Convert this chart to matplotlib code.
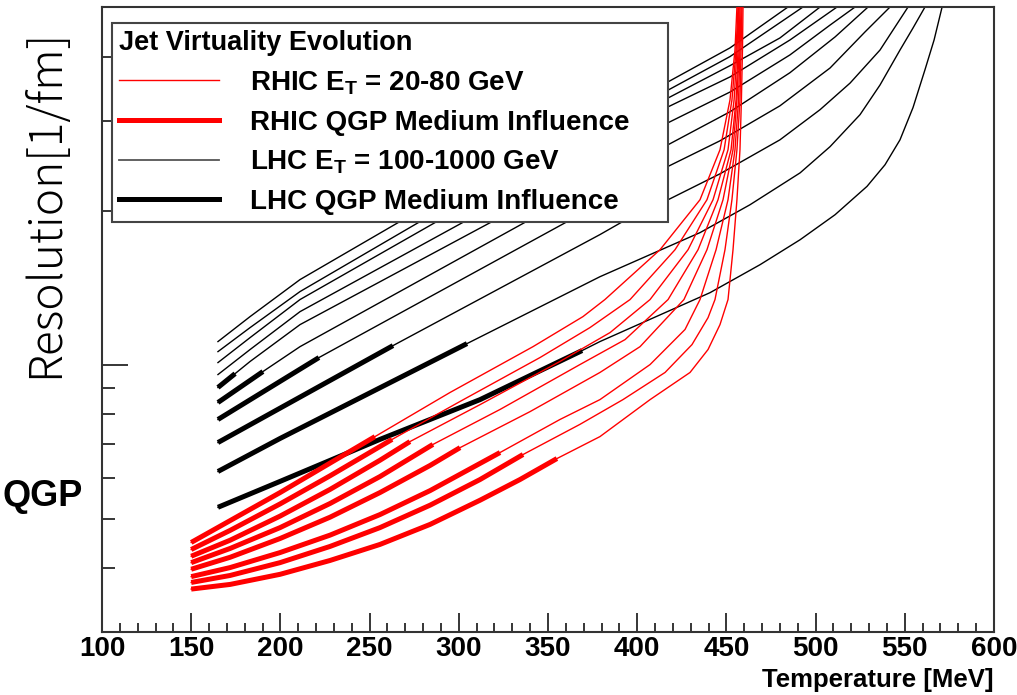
import matplotlib
matplotlib.use("Agg")
import matplotlib.pyplot as plt
from matplotlib.lines import Line2D
from matplotlib.ticker import FixedLocator, MultipleLocator, NullFormatter

plt.rcParams["font.family"] = ["Liberation Sans", "DejaVu Sans"]
plt.rcParams["mathtext.fontset"] = "custom"
plt.rcParams["mathtext.rm"] = "Liberation Sans:bold"
plt.rcParams["mathtext.bf"] = "Liberation Sans:bold"

# LHC jets, E_T = 100-1000 GeV (temperature in MeV, resolution in 1/fm)
lhc_T = [
    [165, 183, 211, 272.6, 417.3, 452, 484.5],
    [165, 183, 211, 283.9, 417.3, 452, 492.9],
    [165, 183, 211, 293.4, 417.3, 452, 480, 502.5],
    [165, 183, 211, 309.1, 417.3, 452, 485.6, 512],
    [165, 174.6, 183, 211, 324.8, 417.3, 452, 485.6, 508.1, 522.1],
    [165, 190.2, 211, 343.8, 417.3, 452.0, 485.6, 510.9, 529.4],
    [165, 221.6, 366.8, 417.3, 446.4, 480.0, 508.1, 527.7, 541.7],
    [165, 263.1, 379.1, 397.6, 417.3, 446.4, 480.0, 502.5, 519.3, 536.1, 551.8],
    [165, 199.8, 304.6, 379.1, 435.2, 463.2, 491.3, 508.1, 524.9, 536.1, 547.3,
     554.6, 561.3],
    [165, 199.8, 255.8, 311.9, 369.1, 379.1, 440.8, 468.9, 491.3, 510.9, 528.8,
     538.9, 547.3, 554.6, 561.3, 566.4, 570.9],
]
lhc_res = [
    [1.109, 1.241, 1.466, 1.954, 3.57, 4.16, 5.0],
    [1.060, 1.181, 1.389, 1.954, 3.44, 4.00, 5.0],
    [1.009, 1.129, 1.340, 1.954, 3.32, 3.84, 4.35, 5.0],
    [0.956, 1.070, 1.269, 1.954, 3.19, 3.65, 4.31, 5.0],
    [0.902, 0.960, 1.014, 1.197, 1.954, 2.97, 3.41, 4.03, 4.61, 5.0],
    [0.843, 0.969, 1.084, 1.954, 2.69, 3.12, 3.72, 4.37, 5.0],
    [0.781, 1.032, 1.954, 2.44, 2.738, 3.205, 3.80, 4.47, 5.0],
    [0.704, 1.089, 1.795, 1.954, 2.10, 2.36, 2.75, 3.15, 3.55, 4.12, 5.0],
    [0.618, 0.717, 1.099, 1.485, 1.811, 2.053, 2.37, 2.667, 3.08, 3.52, 4.12,
     4.55, 5.0],
    [0.526, 0.591, 0.714, 0.854, 1.065, 1.109, 1.382, 1.568, 1.754, 1.963, 2.23,
     2.458, 2.75, 3.18, 3.77, 4.31, 5.0],
]
# index of the last point of the QGP medium part (0 = none)
lhc_qgp_end = [0, 0, 0, 0, 1, 1, 1, 1, 2, 4]

# RHIC jets, E_T = 20-80 GeV
rhic_T = [
    [150, 199.8, 253.0, 295.1, 341.6, 369.6, 381.9, 412.8, 435.2, 446.4, 452.0,
     454.8, 455.9],
    [150, 171.8, 199.8, 227.8, 262.6, 300.7, 345.5, 373.5, 396.0, 421.2, 439.1,
     448.7, 453.1, 455.4, 456.5],
    [150, 171.8, 199.8, 227.8, 255.8, 272.6, 311.9, 356.7, 384.8, 407.2, 428.5,
     442.5, 450.9, 454.3, 455.9, 456.8],
    [150, 171.8, 199.8, 227.8, 255.8, 285.5, 323.1, 367.9, 393.2, 417.3, 434.1,
     445.3, 452.6, 455.4, 456.5, 457.1],
    [150, 171.8, 199.8, 227.8, 255.8, 283.9, 300.7, 339.9, 379.1, 401.6, 426.2,
     439.1, 448.1, 453.7, 455.9, 457.1, 457.6],
    [150, 171.8, 199.8, 227.8, 255.8, 283.9, 323.1, 356.7, 379.1, 407.2, 426.8,
     435.2, 444.2, 450.9, 454.8, 456.8, 457.6, 458.2],
    [150, 171.8, 199.8, 227.8, 255.8, 283.9, 311.9, 336.0, 367.9, 392.0, 415.6,
     430.7, 439.7, 443.6, 449.2, 453.1, 455.9, 457.6, 458.2, 458.7],
    [150, 171.8, 199.8, 227.8, 255.8, 283.9, 311.9, 334.3, 355.0, 379.1, 407.2,
     429.6, 439.7, 446.4, 450.9, 453.7, 455.9, 457.6, 458.4, 459.0, 459.3],
]
rhic_res = [
    [0.449, 0.562, 0.723, 0.882, 1.084, 1.241, 1.340, 1.677, 2.10, 2.63, 3.29,
     4.12, 5.0],
    [0.435, 0.474, 0.534, 0.606, 0.714, 0.847, 1.032, 1.181, 1.340, 1.677, 2.10,
     2.63, 3.29, 4.12, 5.0],
    [0.422, 0.4535, 0.5055, 0.570, 0.650, 0.707, 0.835, 1.014, 1.155, 1.340, 1.677,
     2.10, 2.63, 3.29, 4.12, 5.0],
    [0.410, 0.437, 0.480, 0.535, 0.604, 0.698, 0.817, 1.0, 1.119, 1.340, 1.677,
     2.10, 2.63, 3.29, 4.12, 5.0],
    [0.398, 0.420, 0.457, 0.503, 0.562, 0.635, 0.688, 0.809, 0.965, 1.084, 1.340,
     1.677, 2.10, 2.63, 3.29, 4.12, 5.0],
    [0.385, 0.401, 0.429, 0.464, 0.509, 0.567, 0.673, 0.781, 0.854, 1.0, 1.171,
     1.340, 1.677, 2.10, 2.63, 3.29, 4.12, 5.0],
    [0.375, 0.387, 0.410, 0.441, 0.480, 0.531, 0.596, 0.667, 0.764, 0.854, 0.965,
     1.094, 1.235, 1.340, 1.677, 2.10, 2.63, 3.29, 4.12, 5.0],
    [0.364, 0.3717, 0.389, 0.414, 0.445, 0.487, 0.543, 0.596, 0.655, 0.723, 0.854,
     0.965, 1.070, 1.197, 1.340, 1.677, 2.10, 2.63, 3.29, 4.12, 5.0],
]
rhic_qgp_end = [2, 4, 5, 5, 6, 6, 7, 8]

legend_title = "Jet Virtuality Evolution"
legend_labels = [
    r"RHIC E$_\mathbf{T}$ = 20-80 GeV",
    "RHIC QGP Medium Influence",
    r"LHC E$_\mathbf{T}$ = 100-1000 GeV",
    "LHC QGP Medium Influence",
]

THIN, THICK = 1.0, 3.6

fig = plt.figure(figsize=(10.17, 6.95), dpi=100)
ax = fig.add_axes([0.1003, 0.0906, 0.8771, 0.8993])

# LHC curves
for T, r, k in zip(lhc_T, lhc_res, lhc_qgp_end):
    ax.plot(T, r, color="black", lw=THIN, zorder=2)
    if k:
        ax.plot(T[:k + 1], r[:k + 1], color="black", lw=THICK,
                solid_capstyle="butt", zorder=3)

# RHIC curves
for T, r, k in zip(rhic_T, rhic_res, rhic_qgp_end):
    ax.plot(T, r, color="red", lw=THIN, zorder=4)
    ax.plot(T[:k + 1], r[:k + 1], color="red", lw=THICK,
            solid_capstyle="butt", zorder=5)

ax.set_yscale("log")
ax.set_xlim(100, 600)
ax.set_ylim(0.3, 5.0)

ax.xaxis.set_major_locator(MultipleLocator(50))
ax.xaxis.set_minor_locator(MultipleLocator(10))
ax.yaxis.set_major_locator(FixedLocator([1.0]))
ax.yaxis.set_minor_locator(FixedLocator([0.4, 0.5, 0.6, 0.7, 0.8, 0.9, 2, 3, 4]))
ax.yaxis.set_major_formatter(NullFormatter())
ax.yaxis.set_minor_formatter(NullFormatter())

ax.tick_params(axis="x", which="major", direction="in", length=13.5, width=1.1,
               labelsize=20, pad=3, top=False)
ax.tick_params(axis="x", which="minor", direction="in", length=6.5, width=1.1,
               top=False)
ax.tick_params(axis="y", which="major", direction="in", length=18.5, width=1.1,
               right=False)
ax.tick_params(axis="y", which="minor", direction="in", length=9.5, width=1.1,
               right=False)
for lab in ax.get_xticklabels():
    lab.set_fontweight("bold")
for sp in ax.spines.values():
    sp.set_linewidth(1.5)
    sp.set_edgecolor("#333333")

ax.set_xlabel("Temperature [MeV]", loc="right", fontsize=18.5,
              fontweight="bold", labelpad=4)

handles = [
    Line2D([], [], color="red", lw=THIN),
    Line2D([], [], color="red", lw=THICK),
    Line2D([], [], color="#555555", lw=THIN * 1.3),
    Line2D([], [], color="black", lw=THICK),
]
leg = ax.legend(handles, legend_labels, title=legend_title,
                loc="upper left", bbox_to_anchor=(0.0112, 0.6656, 0.6233, 0.3088),
                mode="expand", alignment="left", fancybox=False, framealpha=1,
                edgecolor="#444444", prop={"weight": "bold", "size": 20},
                title_fontproperties={"weight": "bold", "size": 19.5},
                handlelength=3.6, handletextpad=1.1, labelspacing=0.46,
                borderpad=0.26, borderaxespad=0)
leg.get_frame().set_linewidth(1.5)
leg.set_zorder(10)

fig.text(0.045, 0.707, "Resolution[1/fm]", rotation=90, ha="center", va="center",
         fontsize=33, fontweight="light", family=["Noto Sans CJK JP", "DejaVu Sans"])
fig.text(0.002, 0.285, "QGP", ha="left", va="center", fontsize=26,
         fontweight="bold")

fig.savefig("out.png", dpi=100)
